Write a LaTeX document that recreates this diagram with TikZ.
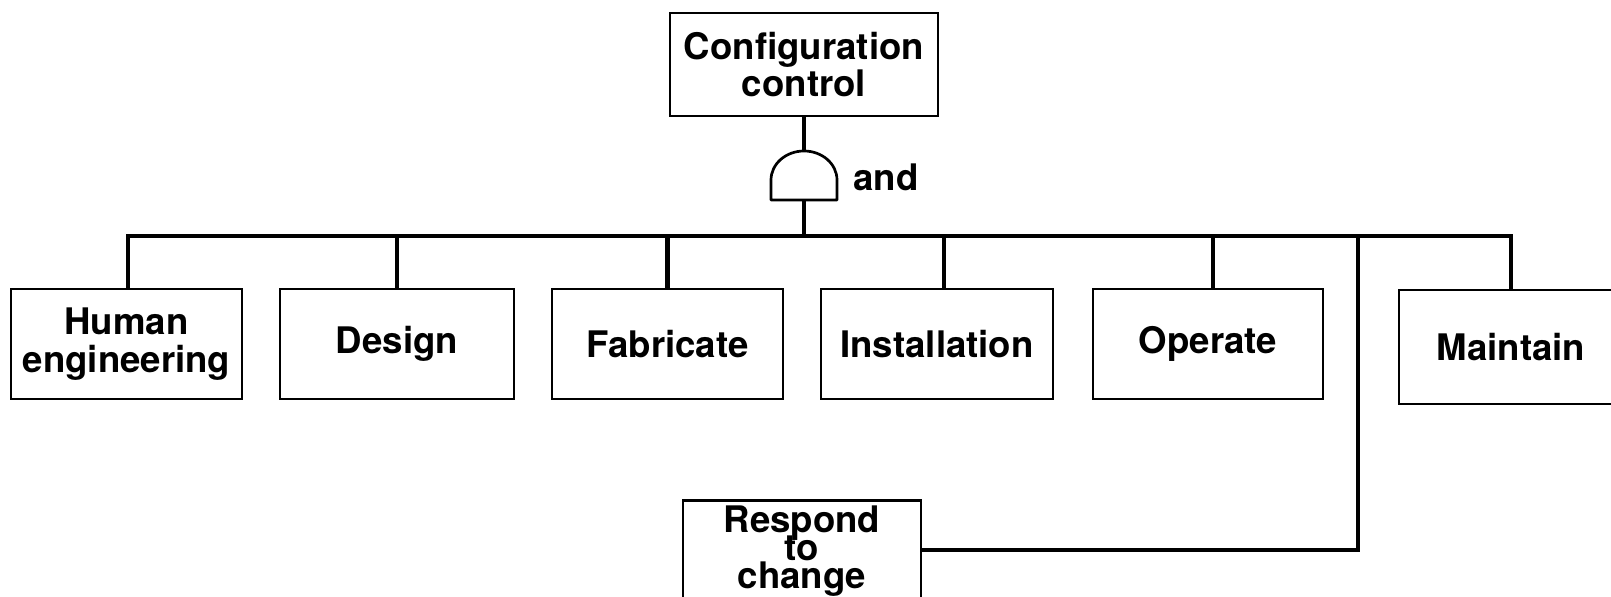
\documentclass[tikz,border=0pt]{standalone}
\usepackage{fontspec}
\setmainfont{TeX Gyre Heros}
% tight three-line label: fixed baselines, no extra line skip
\newcommand\tightlabelfont{\fontsize{18.3pt}{14.2pt}\selectfont\bfseries
  \lineskiplimit-30pt\relax\lineskip0pt\relax}
\begin{document}
\begin{tikzpicture}[x=0.5pt, y=-0.5pt,
  lbl/.style={font=\fontsize{18.3pt}{18.8pt}\selectfont\bfseries},
  box/.style={lbl, draw, line width=1.35pt, rectangle, inner sep=0pt, align=center,
    minimum height=55pt},
  link/.style={line width=2.3pt, line join=miter},
  gateline/.style={line width=1.35pt, line join=round}]
\useasboundingbox (0,0) rectangle (1611,597);

% top event
\node[box, minimum width=134pt, minimum height=51.5pt] (cfg) at (804,64.5)
  {Configuration\\control};

% first-level events
\node[box, minimum width=115.5pt] (hum) at (126.5,344) {Human\\engineering};
\node[box, minimum width=117pt]   (des) at (397,344)   {Design};
\node[box, minimum width=115.5pt] (fab) at (667.5,344) {Fabricate};
\node[box, minimum width=116pt]   (ins) at (937,344)   {Installation};
\node[box, minimum width=115pt]   (ope) at (1208,344)  {Operate};
\node[box, minimum width=112pt, minimum height=57pt] (mnt) at (1511,347) {Maintain};

% lower event, running past the bottom edge
\node[box, minimum width=119pt, minimum height=62pt, anchor=north] (rsp) at (802,499) {};
\node[anchor=north, inner sep=0pt, align=center, font=\tightlabelfont] (rsptxt)
  at (802,505) {Respond\\to\\change};

% AND gate
\coordinate (gtop) at (804,151);
\coordinate (gbot) at (804,200);
\coordinate (jn)   at (804,236);
\coordinate (rj)   at (1358,236);
\coordinate (rh)   at (1358,550);
\draw[gateline] (771,200) -- (771,180)
  arc[start angle=180, end angle=0, x radius=16.5pt, y radius=14.5pt]
  -- (837,200) -- cycle;
\node[lbl, anchor=base west, inner sep=0pt] (andlbl) at (853,191) {and};

% connectors
\draw[link] (cfg.south) -- (gtop);
\draw[link] (gbot) -- (jn);
\draw[link] ([xshift=0.75pt]hum.north) |- (jn) -| (mnt.north);
\draw[link] (des.north) -- (des.north |- jn);
\draw[link] (fab.north) -- (fab.north |- jn);
\draw[link] ([xshift=3.5pt]ins.north) -- ([xshift=3.5pt]ins.north |- jn);
\draw[link] ([xshift=2.5pt]ope.north) -- ([xshift=2.5pt]ope.north |- jn);
\draw[link] (rsp.east |- rh) -| (rj);
\end{tikzpicture}
\end{document}
